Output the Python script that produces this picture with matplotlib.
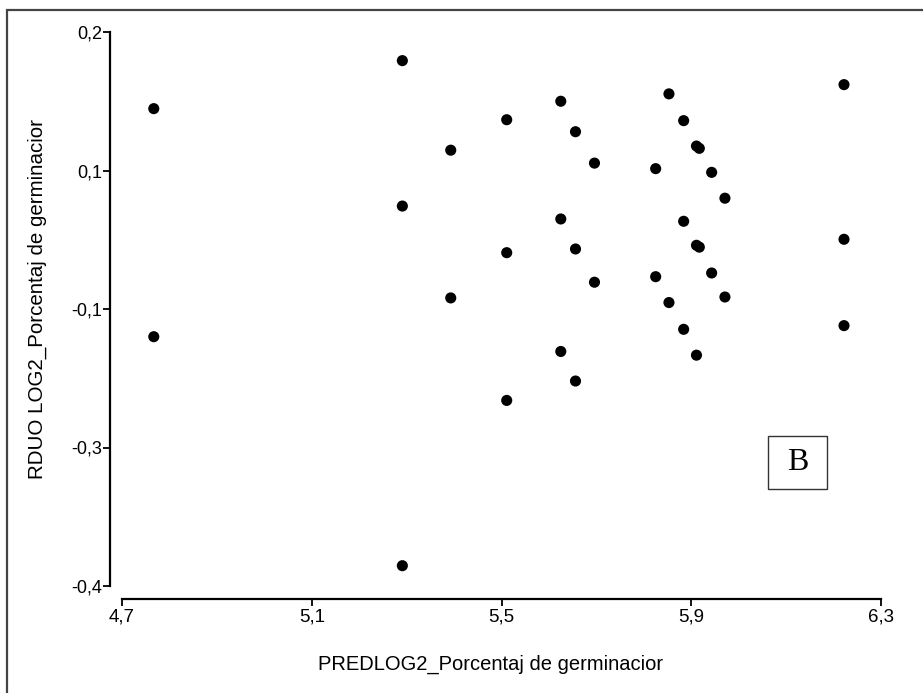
import matplotlib
matplotlib.use("Agg")
import matplotlib.pyplot as plt
from matplotlib.patches import Rectangle

# Predicted values (x) and residuals (y) of the LOG2 germination model
predicted = [
    4.767, 4.767,
    5.291, 5.291, 5.291,
    5.393, 5.393,
    5.511, 5.511, 5.511,
    5.625, 5.625, 5.625,
    5.656, 5.656, 5.656,
    5.696, 5.696,
    5.825, 5.825,
    5.853, 5.853,
    5.884, 5.884, 5.884,
    5.911, 5.911, 5.911,
    5.917, 5.917,
    5.943, 5.943,
    5.971, 5.971,
    6.222, 6.222, 6.222,
]
residuals = [
    0.117, -0.130,
    0.169, 0.0115, -0.378,
    0.072, -0.088,
    0.105, -0.039, -0.199,
    0.125, -0.0025, -0.146,
    0.092, -0.035, -0.178,
    0.058, -0.071,
    0.052, -0.065,
    0.133, -0.093,
    0.104, -0.005, -0.122,
    0.0765, -0.031, -0.150,
    0.074, -0.033,
    0.048, -0.061,
    0.020, -0.087,
    0.143, -0.0245, -0.118,
]

x_ticks = [4.7, 5.1, 5.5, 5.9, 6.3]
x_tick_labels = ["4,7", "5,1", "5,5", "5,9", "6,3"]
y_ticks = [0.2, 0.05, -0.1, -0.25, -0.4]
y_tick_labels = ["0,2", "0,1", "-0,1", "-0,3", "-0,4"]

x_title = "PREDLOG2_Porcentaj de germinacior"
y_title = "RDUO LOG2_Porcentaj de germinacior"
panel_tag = "B"

W, H = 923, 693
plt.rcParams["font.family"] = ["Liberation Sans", "DejaVu Sans"]

fig = plt.figure(figsize=(W / 100, H / 100), dpi=100)
fig.patch.set_facecolor("white")

# plotting area in pixel terms: x 122..881, y 32..586
ax = fig.add_axes([122 / W, (H - 586) / H, (881 - 122) / W, (586 - 32) / H])
ax.set_xlim(4.7, 6.3)
ax.set_ylim(-0.4, 0.2)

ax.scatter(predicted, residuals, s=64, color="black", edgecolors="none",
           zorder=3, clip_on=False)

# detached axes in the style of the statistics package
for side in ("top", "right"):
    ax.spines[side].set_visible(False)
ax.spines["left"].set_position(("outward", 8.6))
ax.spines["bottom"].set_position(("outward", 9.4))
for side in ("left", "bottom"):
    ax.spines[side].set_linewidth(1.6)
    ax.spines[side].set_color("black")
ax.spines["left"].set_bounds(-0.4, 0.2)
ax.spines["bottom"].set_bounds(4.7, 6.3)

ax.set_xticks(x_ticks)
ax.set_xticklabels(x_tick_labels, fontsize=13.5)
ax.set_yticks(y_ticks)
ax.set_yticklabels(y_tick_labels, fontsize=13)
ax.tick_params(axis="both", direction="out", length=5, width=1.3, color="black")
ax.tick_params(axis="x", pad=2)
ax.tick_params(axis="y", pad=0.5)

ax.set_xlabel(x_title, fontsize=14.5)
ax.xaxis.set_label_coords(0.485, -0.124)
ax.set_ylabel(y_title, fontsize=14.8)
ax.yaxis.set_label_coords(-0.099, 0.518)

# outer frame of the panel
fig.add_artist(Rectangle((7 / W, -0.2), 1.2, (H - 10) / H + 0.2,
                         transform=fig.transFigure, fill=False,
                         edgecolor="#444444", linewidth=1.6))

# panel tag in a box
bx0, bx1, by0, by1 = 768, 827, 436, 489
fig.add_artist(Rectangle((bx0 / W, (H - by1) / H), (bx1 - bx0) / W, (by1 - by0) / H,
                         transform=fig.transFigure, fill=False,
                         edgecolor="#333333", linewidth=1.0))
fig.text((bx0 + bx1) / 2 / W, (H - (by0 + by1) / 2) / H, panel_tag,
         family="Liberation Serif", fontsize=23, ha="center", va="center")

fig.savefig("out.png", dpi=100)
